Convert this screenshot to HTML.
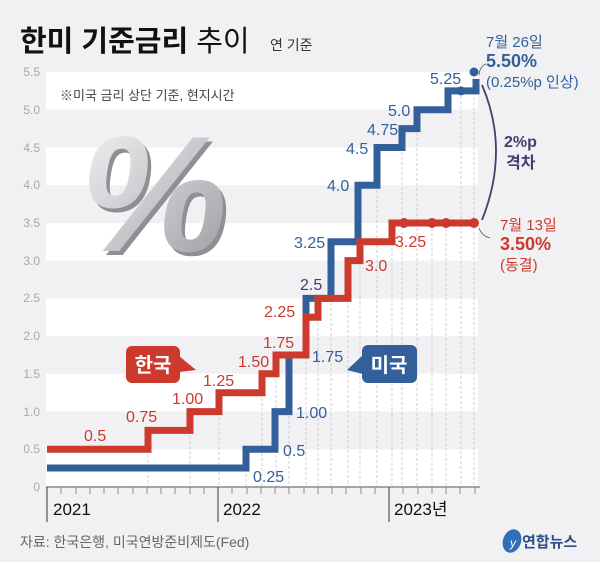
<!DOCTYPE html>
<html><head><meta charset="utf-8"><style>
html,body{margin:0;padding:0;background:#f1f1f3;}
svg{display:block;font-family:"Liberation Sans","Noto Sans CJK KR",sans-serif;}
</style></head><body>
<svg width="600" height="562" viewBox="0 0 600 562" xmlns="http://www.w3.org/2000/svg">
<defs>
<linearGradient id="pg" x1="0" y1="0" x2="1" y2="1">
<stop offset="0" stop-color="#f4f4f6"/><stop offset="0.5" stop-color="#c9c9cd"/><stop offset="1" stop-color="#9a9a9f"/>
</linearGradient>
</defs>
<rect width="600" height="562" fill="#f1f1f3"/>
<g fill="#ffffff">
<rect x="46" y="72" width="432" height="37.7"/>
<rect x="46" y="147.5" width="432" height="37.7"/>
<rect x="46" y="223" width="432" height="37.7"/>
<rect x="46" y="298.4" width="432" height="37.7"/>
<rect x="46" y="373.8" width="432" height="37.7"/>
<rect x="46" y="449.3" width="432" height="37.7"/>
</g>
<g fill="#a8a8ac" font-size="12" text-anchor="end">
<text x="40" y="76">5.5</text><text x="40" y="114">5.0</text><text x="40" y="152">4.5</text>
<text x="40" y="189">4.0</text><text x="40" y="227">3.5</text><text x="40" y="265">3.0</text>
<text x="40" y="302">2.5</text><text x="40" y="340">2.0</text><text x="40" y="378">1.5</text>
<text x="40" y="416">1.0</text><text x="40" y="453">0.5</text><text x="40" y="491">0</text>
</g>
<g stroke="#c8c8cc" stroke-width="0.8" stroke-dasharray="3,2">
<line x1="148" y1="430" x2="148" y2="487"/><line x1="190" y1="411" x2="190" y2="487"/>
<line x1="219" y1="392" x2="219" y2="487"/><line x1="246" y1="449" x2="246" y2="487"/>
<line x1="262" y1="373" x2="262" y2="487"/><line x1="276" y1="355" x2="276" y2="487"/>
<line x1="289" y1="411" x2="289" y2="487"/><line x1="306" y1="317" x2="306" y2="487"/>
<line x1="318" y1="298" x2="318" y2="487"/><line x1="331" y1="298" x2="331" y2="487"/>
<line x1="348" y1="260" x2="348" y2="487"/><line x1="360" y1="241" x2="360" y2="487"/>
<line x1="377" y1="185" x2="377" y2="487"/><line x1="392" y1="223" x2="392" y2="487"/>
<line x1="402" y1="147" x2="402" y2="487"/><line x1="417" y1="128" x2="417" y2="487"/>
<line x1="432" y1="223" x2="432" y2="487"/><line x1="446" y1="223" x2="446" y2="487"/>
<line x1="461" y1="91" x2="461" y2="487"/><line x1="474" y1="72" x2="474" y2="487"/>
</g>
<line x1="46" y1="487" x2="480" y2="487" stroke="#8a8a8e" stroke-width="1.5"/>
<g stroke="#8a8a8e" stroke-width="1">
<line x1="61" y1="487" x2="61" y2="494"/><line x1="76" y1="487" x2="76" y2="494"/><line x1="90" y1="487" x2="90" y2="494"/><line x1="104" y1="487" x2="104" y2="494"/><line x1="118" y1="487" x2="118" y2="494"/><line x1="133" y1="487" x2="133" y2="494"/><line x1="147" y1="487" x2="147" y2="494"/><line x1="161" y1="487" x2="161" y2="494"/><line x1="175" y1="487" x2="175" y2="494"/><line x1="190" y1="487" x2="190" y2="494"/><line x1="204" y1="487" x2="204" y2="494"/>
<line x1="232" y1="487" x2="232" y2="494"/><line x1="247" y1="487" x2="247" y2="494"/><line x1="261" y1="487" x2="261" y2="494"/><line x1="275" y1="487" x2="275" y2="494"/><line x1="289" y1="487" x2="289" y2="494"/><line x1="304" y1="487" x2="304" y2="494"/><line x1="318" y1="487" x2="318" y2="494"/><line x1="332" y1="487" x2="332" y2="494"/><line x1="346" y1="487" x2="346" y2="494"/><line x1="361" y1="487" x2="361" y2="494"/><line x1="375" y1="487" x2="375" y2="494"/>
<line x1="403" y1="487" x2="403" y2="494"/><line x1="418" y1="487" x2="418" y2="494"/><line x1="432" y1="487" x2="432" y2="494"/><line x1="446" y1="487" x2="446" y2="494"/><line x1="460" y1="487" x2="460" y2="494"/><line x1="475" y1="487" x2="475" y2="494"/>
</g>
<g stroke="#555" stroke-width="1.2">
<line x1="47" y1="487" x2="47" y2="522"/><line x1="218" y1="487" x2="218" y2="522"/><line x1="389" y1="487" x2="389" y2="522"/>
</g>
<g fill="#111" font-size="17">
<text x="53" y="515">2021</text><text x="223" y="515">2022</text><text x="394" y="515">2023년</text>
</g>
<text x="84" y="255" font-size="165" font-weight="bold" fill="#8f8f94" transform="skewX(-8) translate(30,0)">%</text>
<text x="80" y="251" font-size="165" font-weight="bold" fill="url(#pg)" transform="skewX(-8) translate(30,0)">%</text>
<text x="60" y="100" font-size="13" fill="#444">※미국 금리 상단 기준, 현지시간</text>
<polyline fill="none" stroke="#33609a" stroke-width="7" points="47,468 246,468 246,449.3 275,449.3 275,411.6 289,411.6 289,355 306,355 306,298.4 331,298.4 331,241.8 358,241.8 358,185.2 377,185.2 377,147.5 402,147.5 402,128.6 417,128.6 417,109.7 448,109.7 448,90.9 476,90.9 476,79"/>
<circle cx="461" cy="90.9" r="4.5" fill="#33609a"/>
<circle cx="474" cy="72" r="4.5" fill="#33609a"/>
<polyline fill="none" stroke="#cc3a2e" stroke-width="7" points="47,449.3 148,449.3 148,430.4 190,430.4 190,411.6 219,411.6 219,392.7 262,392.7 262,373.8 276,373.8 276,355 306,355 306,317.2 318,317.2 318,298.4 348,298.4 348,260.6 360,260.6 360,241.8 392,241.8 392,223 474,223"/>
<g fill="#cc3a2e"><circle cx="404" cy="223" r="5"/><circle cx="432" cy="223" r="5"/><circle cx="446" cy="223" r="5"/><circle cx="474" cy="223" r="5"/></g>
<g fill="#cc3a2e" font-size="16">
<text x="84" y="441">0.5</text><text x="126" y="422">0.75</text><text x="172" y="404">1.00</text>
<text x="203" y="386">1.25</text><text x="238" y="367">1.50</text><text x="263" y="348">1.75</text>
<text x="264" y="317">2.25</text><text x="365" y="271">3.0</text><text x="395" y="247">3.25</text>
</g>
<g fill="#33609a" font-size="16">
<text x="253" y="482">0.25</text><text x="283" y="456">0.5</text><text x="296" y="418">1.00</text>
<text x="312" y="362">1.75</text><text x="294" y="248">3.25</text><text x="327" y="191">4.0</text>
<text x="346" y="154">4.5</text><text x="367" y="135">4.75</text><text x="388" y="116">5.0</text>
<text x="430" y="84">5.25</text>
</g>
<text x="300" y="290" font-size="16" fill="#4a3a6e">2.5</text>
<rect x="126" y="346" width="54" height="37" rx="6" fill="#cc3a2e"/>
<polygon points="179,356 196,370 179,372" fill="#cc3a2e"/>
<text x="153" y="372" font-size="20" font-weight="bold" fill="#fff" text-anchor="middle">한국</text>
<rect x="362" y="345" width="55" height="38" rx="6" fill="#33609a"/>
<polygon points="363,355 347,370 363,374" fill="#33609a"/>
<text x="389" y="372" font-size="20" font-weight="bold" fill="#fff" text-anchor="middle">미국</text>
<path d="M482,85 Q510,150 482,220" fill="none" stroke="#4a3a6e" stroke-width="1.8"/>
<path d="M479,75 Q480,66 486,64" fill="none" stroke="#555" stroke-width="0.8"/>
<path d="M479,228 Q482,236 490,238" fill="none" stroke="#555" stroke-width="0.8"/>
<g fill="#4a3a6e" font-size="16" font-weight="bold">
<text x="504" y="147">2%p</text><text x="506" y="168">격차</text>
</g>
<g fill="#33609a">
<text x="486" y="47" font-size="15">7월 26일</text>
<text x="486" y="67" font-size="18" font-weight="bold">5.50%</text>
<text x="486" y="87" font-size="15">(0.25%p 인상)</text>
</g>
<g fill="#cc3a2e">
<text x="500" y="230" font-size="15">7월 13일</text>
<text x="500" y="250" font-size="18" font-weight="bold">3.50%</text>
<text x="500" y="270" font-size="15">(동결)</text>
</g>
<text x="20" y="51" font-size="29" font-weight="bold" fill="#111">한미 기준금리 <tspan font-weight="normal">추이</tspan></text>
<text x="270" y="50" font-size="14" fill="#333">연 기준</text>
<text x="20" y="547" font-size="14" fill="#666">자료: 한국은행, 미국연방준비제도(Fed)</text>
<ellipse cx="512" cy="541" rx="9" ry="12" fill="#2f6fb8" transform="rotate(20 512 541)"/>
<text x="510" y="547" font-size="12" font-style="italic" fill="#fff">y</text>
<text x="522" y="547" font-size="15" font-weight="bold" fill="#2f4f88">연합뉴스</text>
</svg>
</body></html>
